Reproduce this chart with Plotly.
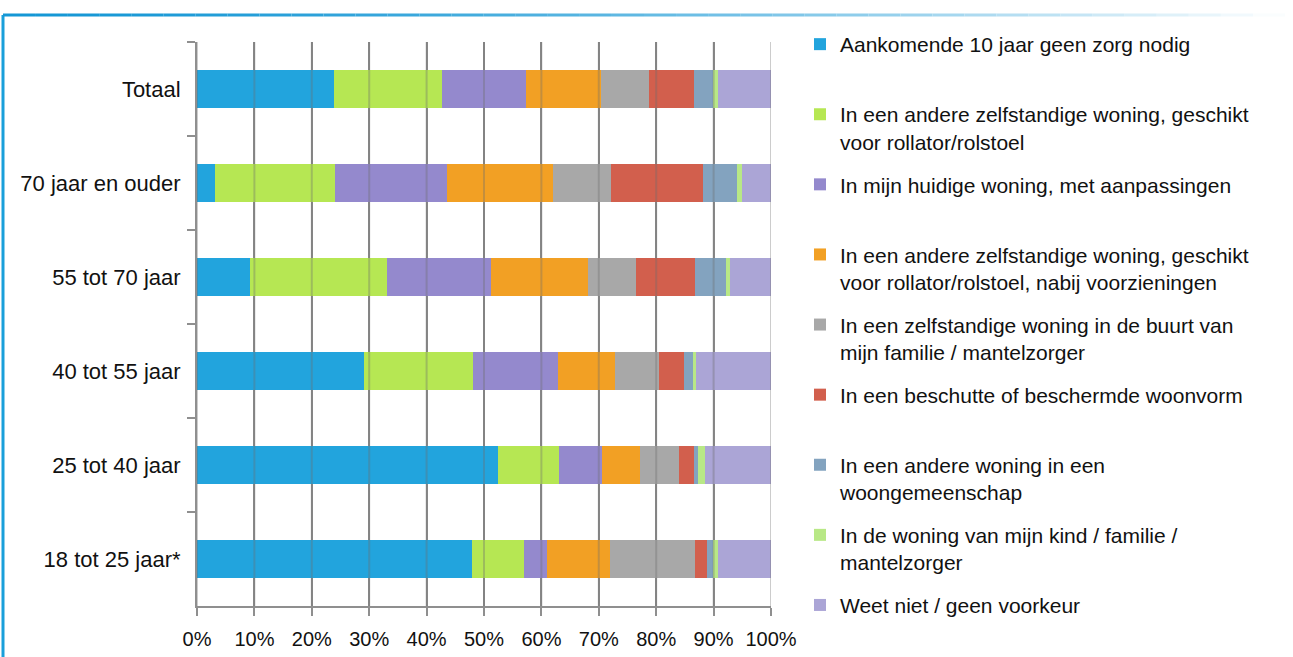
import plotly.graph_objects as go

categories = ["Totaal", "70 jaar en ouder", "55 tot 70 jaar", "40 tot 55 jaar",
              "25 tot 40 jaar", "18 tot 25 jaar*"]

series_names = [
    "Aankomende 10 jaar geen zorg nodig",
    "In een andere zelfstandige woning, geschikt<br>voor rollator/rolstoel",
    "In mijn huidige woning, met aanpassingen",
    "In een andere zelfstandige woning, geschikt<br>voor rollator/rolstoel, nabij voorzieningen",
    "In een zelfstandige woning in de buurt van<br>mijn familie / mantelzorger",
    "In een beschutte of beschermde woonvorm",
    "In een andere woning in een<br>woongemeenschap",
    "In de woning van mijn kind / familie /<br>mantelzorger",
    "Weet niet / geen voorkeur",
]

geen_zorg = [23.8, 3.2, 9.3, 29.1, 52.5, 47.9]
andere_rollator = [18.9, 20.8, 23.8, 18.9, 10.6, 9.0]
huidige_aanpassingen = [14.6, 19.5, 18.1, 14.9, 7.4, 4.0]
andere_voorzieningen = [13.0, 18.6, 16.9, 9.9, 6.6, 11.0]
buurt_familie = [8.5, 10.1, 8.4, 7.6, 6.8, 14.9]
beschut = [7.7, 15.9, 10.2, 4.5, 2.6, 2.1]
woongemeenschap = [3.4, 6.0, 5.4, 1.5, 0.8, 1.0]
woning_kind = [0.8, 0.9, 0.8, 0.6, 1.2, 0.8]
weet_niet = [9.3, 5.0, 7.1, 13.0, 11.5, 9.3]

series_values = [geen_zorg, andere_rollator, huidige_aanpassingen, andere_voorzieningen,
                 buurt_familie, beschut, woongemeenschap, woning_kind, weet_niet]

colors = ["#22A4DD", "#B6E753", "#9489CD", "#F2A024", "#A8A8A8",
          "#D25F4D", "#83A3BF", "#B8E886", "#ABA5D6"]

tick_vals = list(range(0, 101, 10))
tick_text = ["0%", "10%", "20%", "30%", "40%", "50%", "60%", "70%", "80%", "90%", "100%"]

# plot-area geometry in pixels
W, H = 1293, 657
L, R, T, B = 197, 771, 42, 606
PW, PH = R - L, B - T


def px(x):
    return (x - L) / PW


def py(y):
    return (B - y) / PH


fig = go.Figure()
n = len(series_names)
for i, (name, vals, col) in enumerate(zip(series_names, series_values, colors)):
    label = name
    if "<br>" not in name and i < n - 1:
        label = name + "<br> "
    fig.add_trace(go.Bar(
        y=categories, x=vals, name=label, orientation="h",
        marker=dict(color=col, line=dict(width=0)),
        width=0.4, legendgroup=f"g{i}",
    ))

shapes = []
# gridlines drawn faintly over the bars
for v in tick_vals:
    shapes.append(dict(type="line", xref="x", yref="paper", x0=v, x1=v, y0=0, y1=1,
                       layer="above", line=dict(color="rgba(110,110,110,0.35)", width=2)))
# outer frame: left blue line
shapes.append(dict(type="line", xref="paper", yref="paper",
                   x0=px(3), x1=px(3), y0=py(15), y1=py(660),
                   line=dict(color="#1A9FDA", width=3)))
# top line fading to white
nseg = 40
x_start, x_end = 3, 1285
c0 = (21, 151, 213)
for k in range(nseg):
    a = x_start + (x_end - x_start) * k / nseg
    b = x_start + (x_end - x_start) * (k + 1) / nseg
    t = (k + 0.5) / nseg
    t2 = t ** 1.6
    col = tuple(int(round(c * (1 - t2) + 255 * t2)) for c in c0)
    shapes.append(dict(type="line", xref="paper", yref="paper",
                       x0=px(a), x1=px(b), y0=py(15), y1=py(15),
                       line=dict(color="rgb(%d,%d,%d)" % col, width=3)))

fig.update_layout(
    width=W, height=H,
    margin=dict(l=L, r=W - R, t=T, b=H - B, autoexpand=False),
    barmode="stack",
    plot_bgcolor="white", paper_bgcolor="white",
    font=dict(family="Liberation Sans, Arial, sans-serif", size=21, color="#1a1a1a"),
    xaxis=dict(
        range=[0, 100], tickmode="array", tickvals=tick_vals, ticktext=tick_text,
        showgrid=True, gridcolor="#8F8F8F", gridwidth=2,
        showline=True, linecolor="#8F8F8F", linewidth=2,
        ticks="outside", ticklen=8, tickwidth=2, tickcolor="#8F8F8F",
        tickfont=dict(size=20, color="#111"),
        ticklabelstandoff=6, zeroline=False, fixedrange=True,
    ),
    yaxis=dict(
        type="category", categoryorder="array", categoryarray=categories,
        range=[len(categories) - 0.5, -0.5],
        showline=True, linecolor="#8F8F8F", linewidth=2,
        ticks="outside", tickson="boundaries", ticklen=8, tickwidth=2, tickcolor="#8F8F8F",
        tickfont=dict(size=22, color="#111"), ticklabelstandoff=10,
        showgrid=False, zeroline=False, fixedrange=True,
    ),
    legend=dict(
        x=px(800), y=py(24), xanchor="left", yanchor="top",
        traceorder="grouped", tracegroupgap=12.5, valign="top",
        maxheight=700,
        font=dict(size=21, color="#111"), bgcolor="rgba(0,0,0,0)",
        itemclick=False, itemdoubleclick=False,
    ),
    shapes=shapes,
    showlegend=True,
)

fig.write_html("out.html", config={"displayModeBar": False},
               post_script="document.body.style.margin='0';document.body.style.overflow='hidden';")
